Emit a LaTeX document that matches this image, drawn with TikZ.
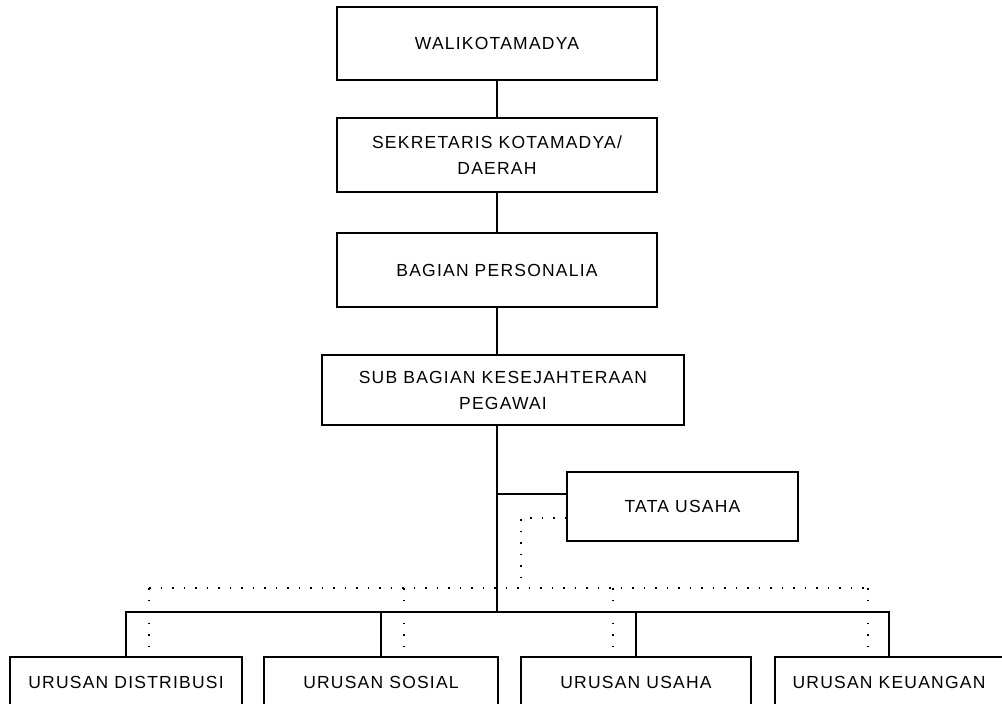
\documentclass[tikz,border=0pt]{standalone}
\usepackage{fontspec}
\newfontfamily\boxfont{Liberation Sans}[LetterSpace=7]
\begin{document}
\begin{tikzpicture}[x=1pt,y=-1pt,
  box/.style={draw, line width=1.6pt, inner sep=0pt, align=center,
    font=\boxfont\fontsize{17.5}{26}\selectfont},
  conn/.style={line width=1.6pt},
  dots/.style={line width=1.5pt, dash pattern=on 1.5pt off 10pt}]
\useasboundingbox (0,0) rectangle (1002,704);
\clip (0,0) rectangle (1002,704);
% upper chain
\node[box, minimum width=320pt, minimum height=73pt] (wali) at (497,43.5) {WALIKOTAMADYA};
\node[box, minimum width=320pt, minimum height=74pt] (sek) at (497,155) {SEKRETARIS KOTAMADYA/\\DAERAH};
\node[box, minimum width=320pt, minimum height=74pt] (bag) at (497,270) {BAGIAN PERSONALIA};
\node[box, minimum width=362pt, minimum height=70pt] (sub) at (503,390) {SUB BAGIAN KESEJAHTERAAN\\PEGAWAI};
\node[box, minimum width=231pt, minimum height=69pt] (tata) at (682.5,506.5) {TATA USAHA};
% bottom row
\node[box, minimum width=232pt, minimum height=50pt] (dist) at (126,682) {URUSAN DISTRIBUSI};
\node[box, minimum width=234pt, minimum height=50pt] (sos) at (381,682) {URUSAN SOSIAL};
\node[box, minimum width=230pt, minimum height=50pt] (usa) at (636,682) {URUSAN USAHA};
\node[box, minimum width=228pt, minimum height=50pt] (keu) at (889,682) {URUSAN KEUANGAN};
% coordinates
\coordinate (trunk) at (497,612);
\coordinate (tj) at (497,494);
\coordinate (dt) at (566,518);
\coordinate (dc) at (521,518);
\coordinate (dbus) at (521,588);
\coordinate (dl) at (149,588);
\coordinate (dr) at (867,588);
\coordinate (e1) at (149,648);
\coordinate (e2) at (404,648);
\coordinate (e3) at (613,648);
\coordinate (e4) at (868,648);
% solid connectors
\draw[conn] (wali) -- (sek);
\draw[conn] (sek) -- (bag);
\draw[conn] (bag.south) -- (bag.south |- sub.north);
\draw[conn] (sub.south -| trunk) -- (trunk);
\draw[conn] (tj) -- (tj -| tata.west);
\draw[conn] (dist.north) -- (dist.north |- trunk) -- (keu.north |- trunk) -- (keu.north);
\draw[conn] (sos.north) -- (sos.north |- trunk);
\draw[conn] (usa.north) -- (usa.north |- trunk);
% dotted connectors
\draw[dots] (dt) -- (dc) -- (dbus);
\draw[dots] (dl) -- (dr);
\draw[dots] (e1 |- dl) -- (e1);
\draw[dots] (e2 |- dl) -- (e2);
\draw[dots] (e3 |- dl) -- (e3);
\draw[dots] (e4 |- dl) -- (e4);
\end{tikzpicture}
\end{document}
